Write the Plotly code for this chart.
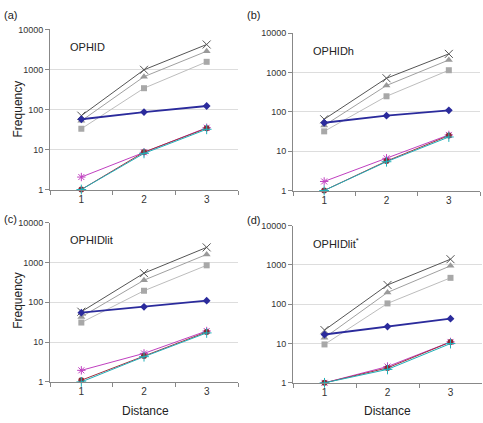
import plotly.graph_objects as go

W, H = 483, 423
distance = ["1", "2", "3"]

# series per panel: [x-marker dark gray, triangle, square, diamond blue, magenta, dark red, cyan]
panels = ["OPHID", "OPHIDh", "OPHIDlit", "OPHIDlit<sup>*</sup>"]
s_cross = [[70, 980, 4200], [65, 720, 3000], [58, 540, 2400], [22, 310, 1400]]
s_tri = [[52, 660, 2850], [45, 470, 2100], [43, 360, 1600], [14, 200, 950]]
s_sq = [[33, 340, 1550], [32, 250, 1150], [31, 195, 850], [9.5, 105, 470]]
s_dia = [[57, 86, 122], [53, 80, 110], [55, 77, 110], [17, 27, 43]]
s_mag = [[2.05, 8.5, 35], [1.7, 6.6, 26], [1.95, 5.2, 19], [1.0, 2.6, 11]]
s_red = [[1.0, 8.6, 34], [1.0, 5.6, 25], [1.1, 4.5, 18], [1.0, 2.4, 11]]
s_cyan = [[1.0, 8.0, 32], [1.0, 5.4, 23], [1.0, 4.3, 17], [1.0, 2.2, 10]]
y_ticks = [1, 10, 100, 1000, 10000]
y_ticktext = ["1", "10", "100", "1000", "10000"]

# panel rectangles in pixels: x0, x1, ytop, ybottom
rects = [(50, 238, 25, 189), (293, 480, 29, 190), (50, 238, 223, 386), (293, 482, 226, 387)]
letters = ["(a)", "(b)", "(c)", "(d)"]

styles = [
    (s_cross, dict(color="#555555", width=1), dict(symbol="x-thin-open", size=8, color="#555555", line=dict(width=1, color="#555555"))),
    (s_tri, dict(color="#a0a0a0", width=1), dict(symbol="triangle-up", size=7, color="#9a9a9a")),
    (s_sq, dict(color="#bdbdbd", width=1), dict(symbol="square", size=6, color="#a8a8a8")),
    (s_dia, dict(color="#2b2b9c", width=1.8), dict(symbol="diamond", size=6, color="#2b2b9c")),
    (s_mag, dict(color="#c040c0", width=1), dict(symbol="asterisk-open", size=7, color="#c040c0", line=dict(width=1, color="#c040c0"))),
    (s_red, dict(color="#a03040", width=1), dict(symbol="circle", size=6, color="#8b2a35")),
    (s_cyan, dict(color="#20b0b8", width=1), dict(symbol="cross-thin-open", size=7, color="#20b0b8", line=dict(width=1, color="#20b0b8"))),
]

fig = go.Figure()
annotations = []
for i in range(4):
    x0, x1, yt, yb = rects[i]
    xa = "xaxis" if i == 0 else f"xaxis{i+1}"
    ya = "yaxis" if i == 0 else f"yaxis{i+1}"
    xr = "x" if i == 0 else f"x{i+1}"
    yr = "y" if i == 0 else f"y{i+1}"
    for data, line, marker in styles:
        fig.add_trace(go.Scatter(x=distance, y=data[i], mode="lines+markers",
                                 line=line, marker=marker, xaxis=xr, yaxis=yr,
                                 showlegend=False, cliponaxis=False))
    fig.update_layout({
        xa: dict(domain=[x0 / W, x1 / W], anchor=yr, type="category",
                 tickson="boundaries", ticks="outside", ticklen=4, tickcolor="#888",
                 showline=True, linecolor="#888", linewidth=1, showgrid=False,
                 tickfont=dict(size=10, color="#333", family="Liberation Sans"),
                 range=[-0.5, 2.5], zeroline=False),
        ya: dict(domain=[1 - yb / H, 1 - yt / H], anchor=xr, type="log", range=[0, 4],
                 tickvals=y_ticks, ticktext=y_ticktext, ticks="outside", ticklen=4,
                 tickcolor="#888", showline=True, linecolor="#888", linewidth=1,
                 showgrid=True, gridcolor="#dddddd", gridwidth=1,
                 tickfont=dict(size=9, color="#333", family="Liberation Sans"),
                 zeroline=False),
    })
    annotations.append(dict(text=panels[i], x=(x0 + 18) / W, y=1 - (yt + 18) / H,
                            xref="paper", yref="paper", xanchor="left", yanchor="middle",
                            showarrow=False, font=dict(size=11, color="#222", family="Liberation Sans")))

letter_pos = [(2, 10), (245, 10), (2, 219), (245, 220)]
for (lx, ly), t in zip(letter_pos, letters):
    annotations.append(dict(text=t, x=lx / W, y=1 - ly / H, xref="paper", yref="paper",
                            xanchor="left", yanchor="middle", showarrow=False,
                            font=dict(size=11, color="#222", family="Liberation Sans")))
for fy in [107, 303]:
    annotations.append(dict(text="Frequency", x=18 / W, y=1 - fy / H, xref="paper", yref="paper",
                            xanchor="center", yanchor="middle", textangle=-90, showarrow=False,
                            font=dict(size=12, color="#222", family="Liberation Sans")))
for dx in [145, 387]:
    annotations.append(dict(text="Distance", x=dx / W, y=1 - 416 / H, xref="paper", yref="paper",
                            xanchor="center", yanchor="middle", showarrow=False,
                            font=dict(size=12, color="#222", family="Liberation Sans")))

fig.update_layout(width=W, height=H, margin=dict(l=0, r=0, t=0, b=0),
                  paper_bgcolor="white", plot_bgcolor="white",
                  annotations=annotations)
fig.write_html("out.html", config={"displayModeBar": False},
               post_script="document.body.style.margin='0';document.body.style.overflow='hidden';")
